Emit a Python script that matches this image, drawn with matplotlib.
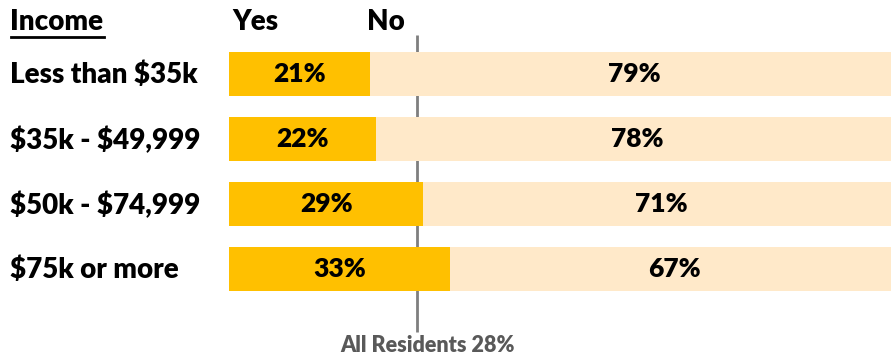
import matplotlib
matplotlib.use('Agg')
from matplotlib import pyplot, rcParams
from matplotlib.lines import Line2D

rcParams['font.family'] = ['Lato', 'DejaVu Sans']
rcParams['font.weight'] = 'heavy'
rcParams['text.parse_math'] = False

income = ['Less than $35k', '$35k - $49,999', '$50k - $74,999', '$75k or more']
yes_pct = [21, 22, 29, 33]
no_pct = [79, 78, 71, 67]
all_residents = 28

YES_COLOR = '#ffc000'
NO_COLOR = '#ffe9c9'
REF_COLOR = '#7f7f7f'

W, H = 891, 356
fig = pyplot.figure(figsize=(W / 100, H / 100), dpi=100)

# bar area in pixels: starts at x=229, 6.7 px per percent (runs past the right edge),
# rows every 65 px starting at y=74
x0, span = 229, 670
ax = fig.add_axes([x0 / W, 0, span / W, 1])
ax.set_xlim(0, 100)
ax.set_ylim((H - 74) / 65, -74 / 65)
ax.axis('off')

pos = list(range(len(income)))
ax.vlines(all_residents, -0.6, 3.97, color=REF_COLOR, lw=2, zorder=1)
ax.barh(pos, yes_pct, height=0.67, color=YES_COLOR, zorder=2)
ax.barh(pos, no_pct, left=yes_pct, height=0.67, color=NO_COLOR, zorder=2)

for i, (y, n) in enumerate(zip(yes_pct, no_pct)):
    ax.text(y / 2, i, f'{y}%', ha='center', va='center', fontsize=19, zorder=3)
    ax.text(y + n / 2, i, f'{n}%', ha='center', va='center', fontsize=19, zorder=3)

ax.text(all_residents + 1.7, 4.18, f'All Residents {all_residents}%',
        ha='center', va='center', fontsize=15.5, color='#595959')

# row labels and column headers in figure pixels
def px(x, y):
    return x / W, 1 - y / H

for i, lab in enumerate(income):
    fig.text(*px(10, 75 + 65 * i), lab, ha='left', va='center', fontsize=20)

fig.text(*px(10, 22), 'Income', ha='left', va='center', fontsize=20)
fig.add_artist(Line2D([11 / W, 104 / W], [1 - 37 / H, 1 - 37 / H],
                      color='black', lw=2, transform=fig.transFigure))
fig.text(*px(255, 22), 'Yes', ha='center', va='center', fontsize=20)
fig.text(*px(386, 22), 'No', ha='center', va='center', fontsize=20)

fig.savefig('out.png', dpi=100)
